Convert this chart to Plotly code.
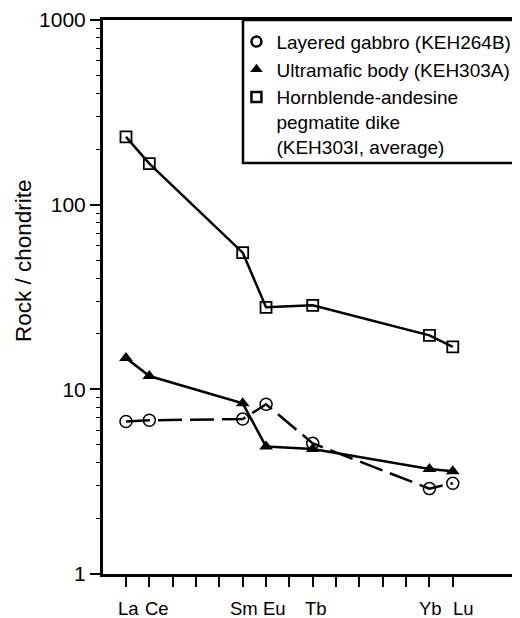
import plotly.graph_objects as go

# Rare earth elements in order (tick positions)
ree = ["La", "Ce", "Pr", "Nd", "Pm", "Sm", "Eu", "Gd", "Tb", "Dy", "Ho", "Er", "Tm", "Yb", "Lu"]
labeled = ["La", "Ce", "Sm", "Eu", "Tb", "Yb", "Lu"]

gabbro_el = ["La", "Ce", "Sm", "Eu", "Tb", "Yb", "Lu"]
gabbro_val = [6.7, 6.8, 6.9, 8.3, 5.1, 2.9, 3.1]

ultramafic_el = ["La", "Ce", "Sm", "Eu", "Tb", "Yb", "Lu"]
ultramafic_val = [14.8, 11.8, 8.4, 4.9, 4.75, 3.7, 3.6]

dike_el = ["La", "Ce", "Sm", "Eu", "Tb", "Yb", "Lu"]
dike_val = [233, 167, 55, 27.8, 28.5, 19.6, 17.0]

y_ticks = [1, 10, 100, 1000]
y_title = "Rock / chondrite"

names = ["Layered gabbro (KEH264B)",
         "Ultramafic body (KEH303A)",
         "Hornblende-andesine<br>pegmatite dike<br>(KEH303I, average)"]

FONT = "Liberation Sans, Arial, Helvetica, sans-serif"
FS = 18.5

# style: horizontal nudges (px) for the element labels, as laid out in the original
label_nudge = {"La": 3, "Ce": 8, "Sm": 1, "Eu": 8, "Tb": 3, "Yb": 1, "Lu": 11}

# figure is drawn inside the page's default 8px body margin
W, H = 512, 610
ML, MT, MB = 95, 12, 44
PW, PH = W - ML, H - MT - MB


def xpos(els):
    return [ree.index(e) for e in els]


fig = go.Figure()

fig.add_trace(go.Scatter(
    x=xpos(dike_el), y=dike_val, mode="lines+markers",
    line=dict(color="black", width=2.5),
    marker=dict(symbol="square-open", size=11, color="black", line=dict(width=1.8)),
    showlegend=False))

fig.add_trace(go.Scatter(
    x=xpos(ultramafic_el), y=ultramafic_val, mode="lines+markers",
    line=dict(color="black", width=2.5),
    marker=dict(symbol="triangle-up", size=12, color="black"),
    showlegend=False))

fig.add_trace(go.Scatter(
    x=xpos(gabbro_el), y=gabbro_val, mode="lines+markers",
    line=dict(color="black", width=2.5, dash="24px,8px"),
    marker=dict(symbol="circle-open", size=12, color="black", line=dict(width=1.5)),
    showlegend=False))

# legend-only entries (markers only)
fig.add_trace(go.Scatter(x=[None], y=[None], mode="markers", name=names[0],
                         marker=dict(symbol="circle-open", size=10, color="black", line=dict(width=2.5))))
fig.add_trace(go.Scatter(x=[None], y=[None], mode="markers", name=names[1],
                         marker=dict(symbol="triangle-up", size=11, color="black")))
fig.add_trace(go.Scatter(x=[None], y=[None], mode="markers", name=names[2],
                         marker=dict(symbol="square-open", size=10, color="black", line=dict(width=2.5))))

minor_vals = [m * 10 ** d for d in range(3) for m in range(2, 10)]

annotations = []
for e in labeled:
    annotations.append(dict(
        x=ree.index(e), xref="x", y=-34 / PH, yref="paper",
        text=e, showarrow=False, xanchor="center", yanchor="middle",
        xshift=label_nudge[e],
        font=dict(family=FONT, size=FS, color="black")))

annotations.append(dict(
    x=(16 - ML) / PW, xref="paper", y=(MT + PH - 253) / PH, yref="paper",
    text=y_title, textangle=-90, showarrow=False,
    xanchor="center", yanchor="middle",
    font=dict(family=FONT, size=22.5, color="black")))

fig.update_layout(
    width=W, height=H,
    margin=dict(l=ML, r=0, t=MT, b=MB, autoexpand=False),
    paper_bgcolor="white", plot_bgcolor="white",
    font=dict(family=FONT, size=FS, color="black"),
    showlegend=True,
    legend=dict(x=0.320, y=0.995, xanchor="left", yanchor="top",
                bgcolor="rgba(0,0,0,0)", borderwidth=0,
                font=dict(family=FONT, size=19, color="black"),
                valign="top", itemwidth=30, tracegroupgap=0),
    xaxis=dict(range=[-0.985, 16.88], showgrid=False, zeroline=False, automargin=False,
               showline=True, linecolor="black", linewidth=3, mirror=True,
               tickmode="array", tickvals=list(range(len(ree))),
               ticktext=["" for e in ree], tickangle=0,
               ticks="outside", ticklen=10, tickwidth=1.5, tickcolor="black"),
    yaxis=dict(type="log", range=[0, 3], showgrid=False, zeroline=False, automargin=False,
               showline=True, linecolor="black", linewidth=3,
               tickmode="array", tickvals=y_ticks,
               ticktext=[str(v) for v in y_ticks],
               ticks="outside", ticklen=10, tickwidth=1.5, tickcolor="black",
               minor=dict(tickmode="array", tickvals=minor_vals, ticks="outside",
                          ticklen=4, tickwidth=1.2, tickcolor="black", showgrid=False),
               tickfont=dict(family=FONT, size=21, color="black")),
    annotations=annotations,
    shapes=[dict(type="rect", xref="paper", yref="paper",
                 x0=0.3357, x1=1.05, y0=(574 - 163) / 554, y1=1.0,
                 line=dict(color="black", width=2.5), fillcolor="rgba(0,0,0,0)")],
)

fig.write_html("out.html")
